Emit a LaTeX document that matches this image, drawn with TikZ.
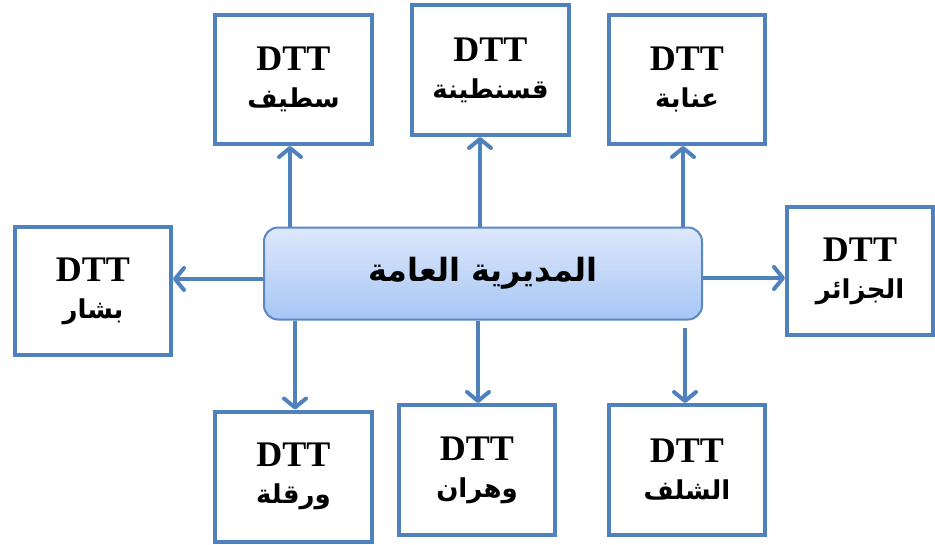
\documentclass[tikz,border=0pt]{standalone}
\usepackage{fontspec}
\setmainfont{Liberation Serif}
\newfontfamily\arabicfont[Script=Arabic]{DejaVu Sans}
\TeXXeTstate=1
\usetikzlibrary{arrows.meta,calc}
\definecolor{obl}{HTML}{4F81BD}
\definecolor{ctop}{HTML}{DDE8FB}
\definecolor{cbot}{HTML}{A7C6F5}
\definecolor{cbrd}{HTML}{5B87C2}
\newcommand{\ar}[1]{{\arabicfont\bfseries\beginR #1\endR}}
\tikzset{
  dttbox/.style={draw=obl, line width=4pt, fill=white, rectangle, align=center,
    font=\bfseries\fontsize{36}{34}\selectfont, inner sep=0pt},
  hub/.style={draw=cbrd, line width=2pt, rounded corners=14pt, top color=ctop, bottom color=cbot,
    minimum width=438pt, minimum height=92pt, font=\fontsize{32}{32}\selectfont},
  arr/.style={draw=obl, line width=4pt, -{Straight Barb[length=9pt,width=22pt,line cap=round,line join=round]}}
}
\newcommand{\cityname}[1]{\\[3pt]{\fontsize{26}{30}\selectfont\ar{#1}}}
\begin{document}
\begin{tikzpicture}[x=1pt,y=-1pt]
\useasboundingbox (0,0) rectangle (935,544);
\node[hub] (c) at (483,273.5) {\ar{المديرية العامة}};
\node[dttbox, minimum width=157pt, minimum height=129pt] (setif) at (293.5,79.5) {DTT\cityname{سطيف}};
\node[dttbox, minimum width=157pt, minimum height=130pt] (qsn) at (490.5,70) {DTT\cityname{قسنطينة}};
\node[dttbox, minimum width=156pt, minimum height=129pt] (annaba) at (687,79.5) {DTT\cityname{عنابة}};
\node[dttbox, minimum width=156pt, minimum height=128pt] (bechar) at (93,291) {DTT\cityname{بشار}};
\node[dttbox, minimum width=146pt, minimum height=128pt] (alger) at (860,271) {DTT\cityname{الجزائر}};
\node[dttbox, minimum width=157pt, minimum height=130pt] (ouargla) at (293.5,476.5) {DTT\cityname{ورقلة}};
\node[dttbox, minimum width=156pt, minimum height=130pt] (oran) at (477,470) {DTT\cityname{وهران}};
\node[dttbox, minimum width=156pt, minimum height=130pt] (chlef) at (687,470) {DTT\cityname{الشلف}};
% up arrows
\draw[arr] ([xshift=-3.5pt]setif.south |- c.north) -- ([xshift=-3.5pt]setif.south);
\draw[arr] ([xshift=-10.5pt]qsn.south |- c.north) -- ([xshift=-10.5pt]qsn.south);
\draw[arr] ([xshift=-4pt]annaba.south |- c.north) -- ([xshift=-4pt]annaba.south);
% side arrows
\draw[arr] ([yshift=-5.5pt]c.west) -- ([yshift=-5.5pt]c.west -| bechar.east);
\draw[arr] ([yshift=-4.5pt]c.east) -- ([yshift=-4.5pt]c.east -| alger.west);
% down arrows
\draw[arr] ([xshift=1.5pt]ouargla.north |- c.south) -- ([xshift=1.5pt]ouargla.north);
\draw[arr] ([xshift=1pt]oran.north |- c.south) -- ([xshift=1pt]oran.north);
\draw[arr] ([xshift=-2pt,yshift=-7pt]chlef.north |- c.south) -- ([xshift=-2pt]chlef.north);
\end{tikzpicture}
\end{document}
